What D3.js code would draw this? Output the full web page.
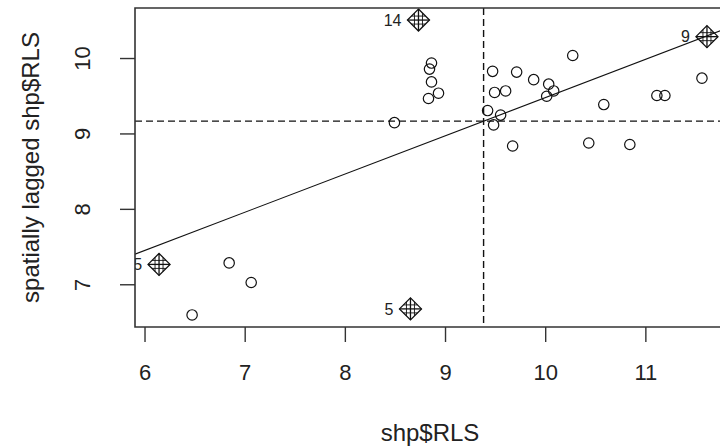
<!DOCTYPE html>
<html>
<head>
<meta charset="utf-8">
<script src="https://cdn.jsdelivr.net/npm/d3@7"></script>
<style>
  body { margin: 0; background: #fff; }
  svg { display: block; font-family: "Liberation Sans", Arial, sans-serif; }
</style>
</head>
<body>
<script>
// ordinary points (RLS, spatially lagged RLS)
let rls    = [8.86, 8.84, 8.86, 8.93, 8.83, 8.49, 9.47, 9.71, 9.88, 10.03, 9.49, 9.60, 10.08, 10.01,
              9.42, 9.55, 9.48, 9.67, 10.27, 10.58, 11.11, 11.19, 11.56, 10.43, 10.84, 6.84, 7.06, 6.47];
let lagRls = [9.94, 9.86, 9.69, 9.54, 9.47, 9.15, 9.83, 9.82, 9.72, 9.66, 9.55, 9.57, 9.57, 9.50,
              9.31, 9.25, 9.12, 8.84, 10.04, 9.39, 9.51, 9.51, 9.74, 8.88, 8.86, 7.29, 7.03, 6.60];

// influential points
let inflLabels = ["14", "9", "5", "25"];
let inflRls    = [8.73, 11.61, 8.65, 6.14];
let inflLag    = [10.51, 10.29, 6.68, 7.27];

let meanRls = 9.38;
let meanLag = 9.17;
let slope = 0.507;

let xTicks = [6, 7, 8, 9, 10, 11];
let yTicks = [7, 8, 9, 10];

let W = 720, H = 448;
let svg = d3.select("body").append("svg").attr("width", W).attr("height", H);

let plot = { left: 135, right: 729, top: 8, bottom: 327 };

let scaleX = d3.scaleLinear().domain([5.9, 11.83]).range([plot.left, plot.right]);
let scaleY = d3.scaleLinear().domain([6.44, 10.67]).range([plot.bottom, plot.top]);

svg.append("clipPath").attr("id", "clip")
  .append("rect")
  .attr("x", plot.left).attr("y", plot.top)
  .attr("width", plot.right - plot.left).attr("height", plot.bottom - plot.top);

let inner = svg.append("g").attr("clip-path", "url(#clip)");

let DrawLines = () =>
{
  // mean lines
  inner.append("line")
    .attr("x1", scaleX(meanRls)).attr("x2", scaleX(meanRls))
    .attr("y1", plot.top).attr("y2", plot.bottom)
    .attr("stroke", "#111").attr("stroke-width", 1.4).attr("stroke-dasharray", "7,4");
  inner.append("line")
    .attr("x1", plot.left).attr("x2", plot.right)
    .attr("y1", scaleY(meanLag)).attr("y2", scaleY(meanLag))
    .attr("stroke", "#111").attr("stroke-width", 1.4).attr("stroke-dasharray", "7,4");
  // regression line
  let fit = (v) => meanLag + slope * (v - meanRls);
  inner.append("line")
    .attr("x1", scaleX(5.9)).attr("y1", scaleY(fit(5.9)))
    .attr("x2", scaleX(11.83)).attr("y2", scaleY(fit(11.83)))
    .attr("stroke", "#111").attr("stroke-width", 1.1);
}

let DrawPoints = () =>
{
  inner.selectAll("circle.pt").data(rls).enter().append("circle")
    .attr("class", "pt")
    .attr("cx", (d) => scaleX(d))
    .attr("cy", (d, i) => scaleY(lagRls[i]))
    .attr("r", 5.2)
    .attr("fill", "none")
    .attr("stroke", "#111")
    .attr("stroke-width", 1.2);

  let s = 11;
  let infl = inner.selectAll("g.infl").data(inflRls).enter().append("g")
    .attr("class", "infl")
    .attr("transform", (d, i) => "translate(" + scaleX(d) + "," + scaleY(inflLag[i]) + ")");
  infl.append("path")
    .attr("d", "M0," + (-s) + "L" + s + ",0L0," + s + "L" + (-s) + ",0Z")
    .attr("fill", "none").attr("stroke", "#111").attr("stroke-width", 1.3);
  [-4, 0, 4].forEach((o) =>
  {
    let h = s - Math.abs(o);
    infl.append("line").attr("x1", o).attr("x2", o).attr("y1", -h).attr("y2", h)
      .attr("stroke", "#111").attr("stroke-width", o == 0 ? 1.3 : 0.9);
    infl.append("line").attr("y1", o).attr("y2", o).attr("x1", -h).attr("x2", h)
      .attr("stroke", "#111").attr("stroke-width", o == 0 ? 1.3 : 0.9);
  });
  infl.append("text")
    .text((d, i) => inflLabels[i])
    .attr("x", -s - 6)
    .attr("dy", "0.36em")
    .attr("text-anchor", "end")
    .attr("font-size", "16px")
    .attr("fill", "#222");
}

let DrawAxis = () =>
{
  svg.append("path")
    .attr("d", "M" + plot.right + "," + plot.top + "H" + plot.left + "V" + plot.bottom + "H" + plot.right)
    .attr("fill", "none").attr("stroke", "#333").attr("stroke-width", 1.6);

  svg.selectAll("line.xt").data(xTicks).enter().append("line")
    .attr("x1", (d) => scaleX(d)).attr("x2", (d) => scaleX(d))
    .attr("y1", plot.bottom).attr("y2", plot.bottom + 15)
    .attr("stroke", "#333").attr("stroke-width", 1.4);
  svg.selectAll("text.xt").data(xTicks).enter().append("text")
    .text((d) => d)
    .attr("x", (d) => scaleX(d)).attr("y", 380)
    .attr("text-anchor", "middle").attr("font-size", "22px").attr("fill", "#222");

  svg.selectAll("line.yt").data(yTicks).enter().append("line")
    .attr("y1", (d) => scaleY(d)).attr("y2", (d) => scaleY(d))
    .attr("x1", plot.left - 15).attr("x2", plot.left)
    .attr("stroke", "#333").attr("stroke-width", 1.4);
  svg.selectAll("text.yt").data(yTicks).enter().append("text")
    .text((d) => d)
    .attr("transform", (d) => "translate(90," + scaleY(d) + ") rotate(-90)")
    .attr("text-anchor", "middle").attr("font-size", "22px").attr("fill", "#222");

  svg.append("text")
    .text("shp$RLS")
    .attr("x", (plot.left + plot.right) / 2 - 2).attr("y", 441)
    .attr("text-anchor", "middle").attr("font-size", "24px").attr("fill", "#222");
  svg.append("text")
    .text("spatially lagged shp$RLS")
    .attr("transform", "translate(39," + (plot.top + plot.bottom) / 2 + ") rotate(-90)")
    .attr("text-anchor", "middle").attr("font-size", "24px").attr("fill", "#222");
}

DrawLines();
DrawPoints();
DrawAxis();
</script>
</body>
</html>
